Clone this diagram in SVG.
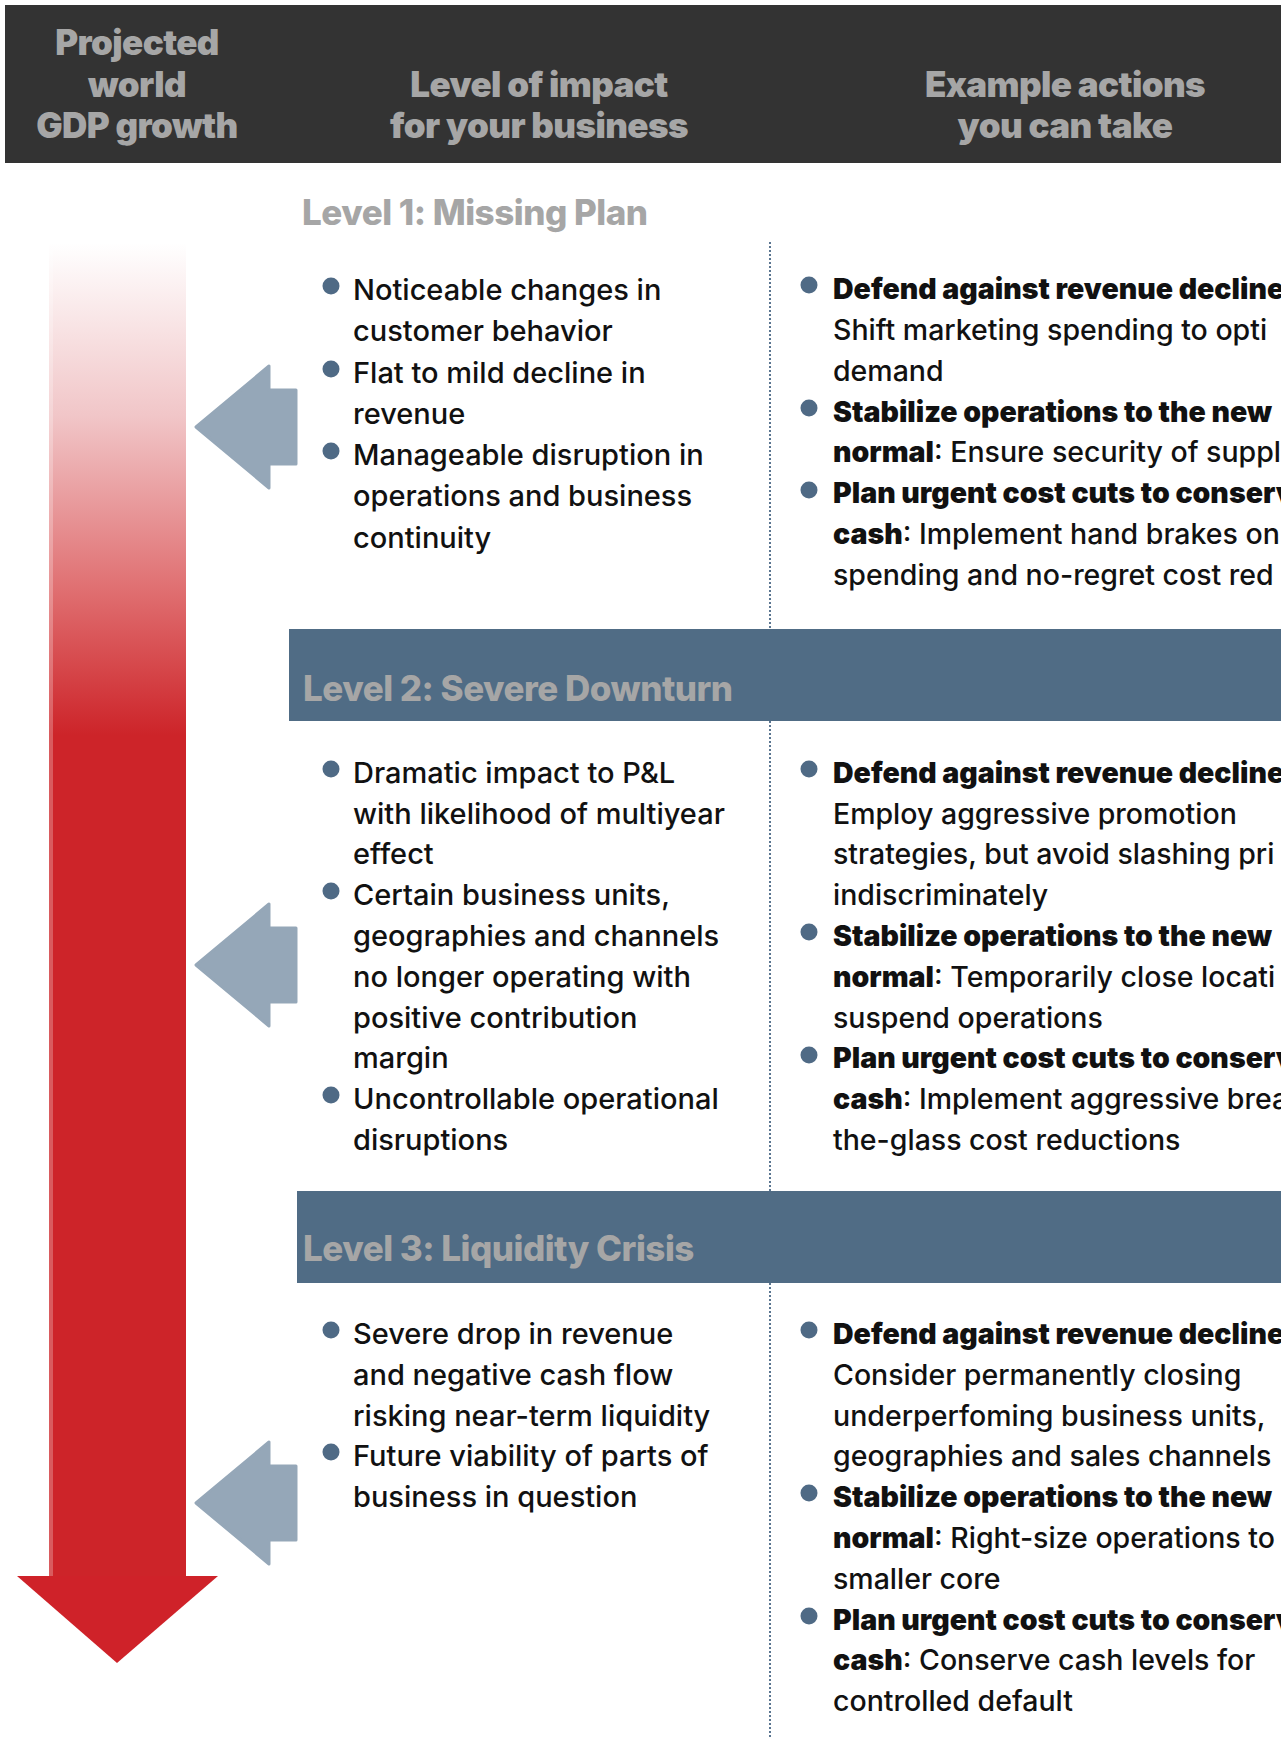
<svg xmlns="http://www.w3.org/2000/svg" width="1284" height="1737" viewBox="0 0 1284 1737">
  <style>
    .hdr { font-family: Inter, "Liberation Sans", sans-serif; font-weight: 900; font-size: 35px; fill: #a6a6a6; text-anchor: middle; letter-spacing: -0.6px; }
    .lvl { font-family: Inter, "Liberation Sans", sans-serif; font-weight: 800; font-size: 35px; fill: #a6a6a6; letter-spacing: -0.5px; }
    .txt { font-family: Inter, "Liberation Sans", sans-serif; font-weight: 500; font-size: 28.5px; fill: #111111; }
    .imp { font-size: 29px; }
    .b { font-weight: 900; }
    .bullet { fill: #4f6a85; }
    .band { fill: #506c85; }
    .pointer { fill: #95a7b8; stroke: #95a7b8; stroke-width: 3; stroke-linejoin: round; }
    .divider { stroke: #5a7590; stroke-width: 2; stroke-dasharray: 2 2; fill: none; }
  </style>
  <defs>
    <linearGradient id="redFade" gradientUnits="userSpaceOnUse" x1="0" y1="243" x2="0" y2="735">
      <stop offset="0" stop-color="#ffffff"/>
      <stop offset="0.35" stop-color="#f1c6c8"/>
      <stop offset="0.7" stop-color="#e07072"/>
      <stop offset="1" stop-color="#cd2429"/>
    </linearGradient>
    <clipPath id="pageEdge">
      <rect x="0" y="0" width="1281" height="1737"/>
    </clipPath>
  </defs>

  <rect width="1284" height="1737" fill="#ffffff"/>

  <!-- header bar -->
  <g id="header">
    <rect x="5" y="5" width="1276" height="158" fill="#333333"/>
    <text class="hdr" x="137" y="55">Projected</text>
    <text class="hdr" x="137" y="97">world</text>
    <text class="hdr" x="137" y="138">GDP growth</text>
    <text class="hdr" x="539" y="97">Level of impact</text>
    <text class="hdr" x="539" y="138">for your business</text>
    <text class="hdr" x="1065" y="97">Example actions</text>
    <text class="hdr" x="1065" y="138">you can take</text>
  </g>

  <!-- GDP growth arrow -->
  <g id="gdp-arrow">
    <rect x="49" y="243" width="137" height="1335" fill="url(#redFade)"/>
    <rect x="49" y="243" width="4" height="1335" fill="#ffffff" opacity="0.25"/>
    <polygon points="17,1576 218,1576 117,1663" fill="#cf2229"/>
  </g>

  <!-- level bands -->
  <g id="level1-title">
    <text class="lvl" x="302" y="225">Level 1: Missing Plan</text>
  </g>
  <g id="level2-title">
    <rect class="band" x="289" y="629" width="992" height="92"/>
    <text class="lvl" x="303" y="701">Level 2: Severe Downturn</text>
  </g>
  <g id="level3-title">
    <rect class="band" x="297" y="1191" width="984" height="92"/>
    <text class="lvl" x="303" y="1261">Level 3: Liquidity Crisis</text>
  </g>

  <!-- column divider -->
  <g id="connectors">
    <line class="divider" x1="770" y1="242" x2="770" y2="629"/>
    <line class="divider" x1="770" y1="721" x2="770" y2="1191"/>
    <line class="divider" x1="770" y1="1283" x2="770" y2="1737"/>
  </g>

  <!-- pointers from the GDP arrow to each level -->
  <g id="pointer-1">
    <path class="pointer" d="M196,427 L269,366 L269,390 L296,390 L296,464 L269,464 L269,488 Z"/>
  </g>
  <g id="pointer-2">
    <path class="pointer" d="M196,965 L269,904 L269,928 L296,928 L296,1002 L269,1002 L269,1026 Z"/>
  </g>
  <g id="pointer-3">
    <path class="pointer" d="M196,1503 L269,1442 L269,1466 L296,1466 L296,1540 L269,1540 L269,1564 Z"/>
  </g>

  <!-- Level 1 impact -->
  <g id="impact-1">
    <circle class="bullet" cx="331" cy="286" r="8.5"/>
    <circle class="bullet" cx="331" cy="369" r="8.5"/>
    <circle class="bullet" cx="331" cy="451" r="8.5"/>
    <text class="txt imp" x="353" y="300">Noticeable changes in</text>
    <text class="txt imp" x="353" y="341">customer behavior</text>
    <text class="txt imp" x="353" y="383">Flat to mild decline in</text>
    <text class="txt imp" x="353" y="424">revenue</text>
    <text class="txt imp" x="353" y="465">Manageable disruption in</text>
    <text class="txt imp" x="353" y="506">operations and business</text>
    <text class="txt imp" x="353" y="548">continuity</text>
  </g>

  <!-- Level 1 actions -->
  <g id="actions-1" clip-path="url(#pageEdge)">
    <circle class="bullet" cx="809" cy="285" r="8.5"/>
    <circle class="bullet" cx="809" cy="408" r="8.5"/>
    <circle class="bullet" cx="809" cy="490" r="8.5"/>
    <text class="txt" x="833" y="299"><tspan class="b">Defend against revenue decline</tspan></text>
    <text class="txt" x="833" y="340">Shift marketing spending to opti</text>
    <text class="txt" x="833" y="381">demand</text>
    <text class="txt" x="833" y="422"><tspan class="b">Stabilize operations to the new</tspan></text>
    <text class="txt" x="833" y="462"><tspan class="b">normal</tspan>: Ensure security of suppl</text>
    <text class="txt" x="833" y="503"><tspan class="b">Plan urgent cost cuts to conserv</tspan></text>
    <text class="txt" x="833" y="544"><tspan class="b">cash</tspan>: Implement hand brakes on</text>
    <text class="txt" x="833" y="585">spending and no-regret cost red</text>
  </g>

  <!-- Level 2 impact -->
  <g id="impact-2">
    <circle class="bullet" cx="331" cy="769" r="8.5"/>
    <circle class="bullet" cx="331" cy="891" r="8.5"/>
    <circle class="bullet" cx="331" cy="1095" r="8.5"/>
    <text class="txt imp" x="353" y="783">Dramatic impact to P&amp;L</text>
    <text class="txt imp" x="353" y="824">with likelihood of multiyear</text>
    <text class="txt imp" x="353" y="864">effect</text>
    <text class="txt imp" x="353" y="905">Certain business units,</text>
    <text class="txt imp" x="353" y="946">geographies and channels</text>
    <text class="txt imp" x="353" y="987">no longer operating with</text>
    <text class="txt imp" x="353" y="1028">positive contribution</text>
    <text class="txt imp" x="353" y="1068">margin</text>
    <text class="txt imp" x="353" y="1109">Uncontrollable operational</text>
    <text class="txt imp" x="353" y="1150">disruptions</text>
  </g>

  <!-- Level 2 actions -->
  <g id="actions-2" clip-path="url(#pageEdge)">
    <circle class="bullet" cx="809" cy="769" r="8.5"/>
    <circle class="bullet" cx="809" cy="932" r="8.5"/>
    <circle class="bullet" cx="809" cy="1055" r="8.5"/>
    <text class="txt" x="833" y="783"><tspan class="b">Defend against revenue decline</tspan></text>
    <text class="txt" x="833" y="824">Employ aggressive promotion</text>
    <text class="txt" x="833" y="864">strategies, but avoid slashing pri</text>
    <text class="txt" x="833" y="905">indiscriminately</text>
    <text class="txt" x="833" y="946"><tspan class="b">Stabilize operations to the new</tspan></text>
    <text class="txt" x="833" y="987"><tspan class="b">normal</tspan>: Temporarily close locati</text>
    <text class="txt" x="833" y="1028">suspend operations</text>
    <text class="txt" x="833" y="1068"><tspan class="b">Plan urgent cost cuts to conserv</tspan></text>
    <text class="txt" x="833" y="1109"><tspan class="b">cash</tspan>: Implement aggressive brea</text>
    <text class="txt" x="833" y="1150">the-glass cost reductions</text>
  </g>

  <!-- Level 3 impact -->
  <g id="impact-3">
    <circle class="bullet" cx="331" cy="1330" r="8.5"/>
    <circle class="bullet" cx="331" cy="1452" r="8.5"/>
    <text class="txt imp" x="353" y="1344">Severe drop in revenue</text>
    <text class="txt imp" x="353" y="1385">and negative cash flow</text>
    <text class="txt imp" x="353" y="1426">risking near-term liquidity</text>
    <text class="txt imp" x="353" y="1466">Future viability of parts of</text>
    <text class="txt imp" x="353" y="1507">business in question</text>
  </g>

  <!-- Level 3 actions -->
  <g id="actions-3" clip-path="url(#pageEdge)">
    <circle class="bullet" cx="809" cy="1330" r="8.5"/>
    <circle class="bullet" cx="809" cy="1493" r="8.5"/>
    <circle class="bullet" cx="809" cy="1616" r="8.5"/>
    <text class="txt" x="833" y="1344"><tspan class="b">Defend against revenue decline</tspan></text>
    <text class="txt" x="833" y="1385">Consider permanently closing</text>
    <text class="txt" x="833" y="1426">underperfoming business units,</text>
    <text class="txt" x="833" y="1466">geographies and sales channels</text>
    <text class="txt" x="833" y="1507"><tspan class="b">Stabilize operations to the new</tspan></text>
    <text class="txt" x="833" y="1548"><tspan class="b">normal</tspan>: Right-size operations to</text>
    <text class="txt" x="833" y="1589">smaller core</text>
    <text class="txt" x="833" y="1630"><tspan class="b">Plan urgent cost cuts to conserv</tspan></text>
    <text class="txt" x="833" y="1670"><tspan class="b">cash</tspan>: Conserve cash levels for</text>
    <text class="txt" x="833" y="1711">controlled default</text>
  </g>
</svg>
